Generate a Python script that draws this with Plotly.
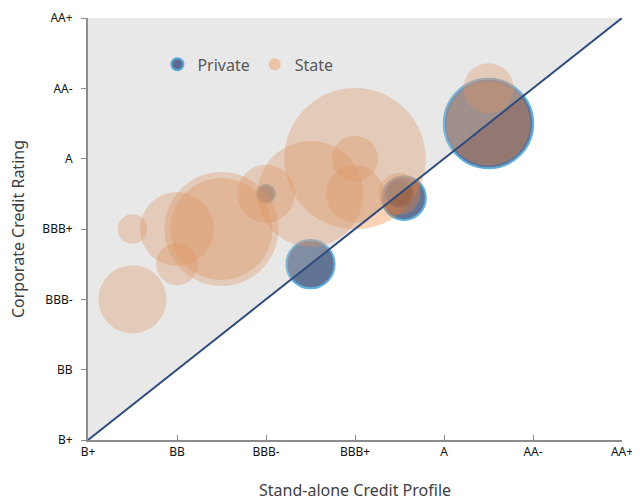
import plotly.graph_objects as go

# rating scale, one step per notch (B+ = 0)
tick_pos = [0, 2, 4, 6, 8, 10, 12]
tick_text = ["B+", "BB", "BBB-", "BBB+", "A", "AA-", "AA+"]

# private companies: stand-alone profile, corporate rating, size
private_x = [4, 5, 7, 7.1, 9]
private_y = [7, 5, 7, 6.88, 9]
private_size = [0.8, 5.8, 1.7, 4.8, 20]

# state companies
state_x = [1, 1, 2, 2, 3, 3, 4, 5, 6, 6, 6, 7, 9, 9]
state_y = [4, 6, 6, 5, 6, 6, 7, 7, 8, 8, 7, 7, 9, 10]
state_size = [11.6, 2.2, 13.7, 4.4, 32.5, 26, 8.4, 28, 50, 5.3, 8.4, 4.4, 17.6, 6.3]

sref = 1 / 200

fig = go.Figure()
fig.add_trace(go.Scatter(
    x=private_x, y=private_y, mode="markers", name="Private",
    marker=dict(size=private_size, sizemode="area", sizeref=sref,
                color="#1F3A6B", line=dict(color="#1E8FD0", width=2))))
fig.add_trace(go.Scatter(
    x=state_x, y=state_y, mode="markers", name="State",
    marker=dict(size=state_size, sizemode="area", sizeref=sref,
                color="rgba(237,125,49,0.5)", line=dict(width=0))))

# grey shaded region above the diagonal (drawn over the bubbles)
fig.add_shape(type="path", path="M 0,0 L 0,12 L 12,12 Z", xref="x", yref="y",
              fillcolor="rgba(189,189,189,0.35)", line=dict(width=0), layer="above")
fig.add_shape(type="line", x0=0, y0=0, x1=12, y1=12, xref="x", yref="y",
              line=dict(color="#2F4B7C", width=2), layer="above")

# axis titles as annotations so they sit where the original has them
fig.add_annotation(text="Stand-alone Credit Profile", xref="paper", yref="paper",
                   x=0.5, y=-0.118, xanchor="center", yanchor="middle", showarrow=False,
                   font=dict(size=16, color="#404040"))
fig.add_annotation(text="Corporate Credit Rating", xref="paper", yref="paper",
                   x=-0.131, y=0.5, xanchor="center", yanchor="middle", showarrow=False,
                   textangle=-90, font=dict(size=16, color="#404040"))

# page body has an 8px margin, so the figure is a bit smaller than the window
fig.update_layout(
    width=632, height=493,
    margin=dict(l=80, r=18, t=10, b=61),
    plot_bgcolor="white", paper_bgcolor="white",
    font=dict(family="Noto Sans", color="#222222"),
    showlegend=True,
    legend=dict(orientation="h", x=0.13, y=0.89, xanchor="left", yanchor="middle",
                bgcolor="rgba(0,0,0,0)", font=dict(size=16, color="#595959"),
                itemsizing="constant"),
)
fig.update_xaxes(range=[0, 12], tickvals=tick_pos, ticktext=tick_text, automargin=False,
                 ticklabeloverflow="allow",
                 showgrid=False, zeroline=False, showline=True, linecolor="#8C8C8C",
                 linewidth=2, ticks="inside", ticklen=5, tickcolor="#8C8C8C",
                 tickfont=dict(size=12, color="#111111"))
fig.update_yaxes(range=[0, 12], tickvals=tick_pos, ticktext=tick_text, automargin=False,
                 ticklabeloverflow="allow",
                 showgrid=False, zeroline=False, showline=True, linecolor="#8C8C8C",
                 linewidth=2, ticks="outside", ticklen=5, tickcolor="#8C8C8C",
                 ticklabelstandoff=6, tickfont=dict(size=12, color="#111111"))

fig.write_html("out.html")
